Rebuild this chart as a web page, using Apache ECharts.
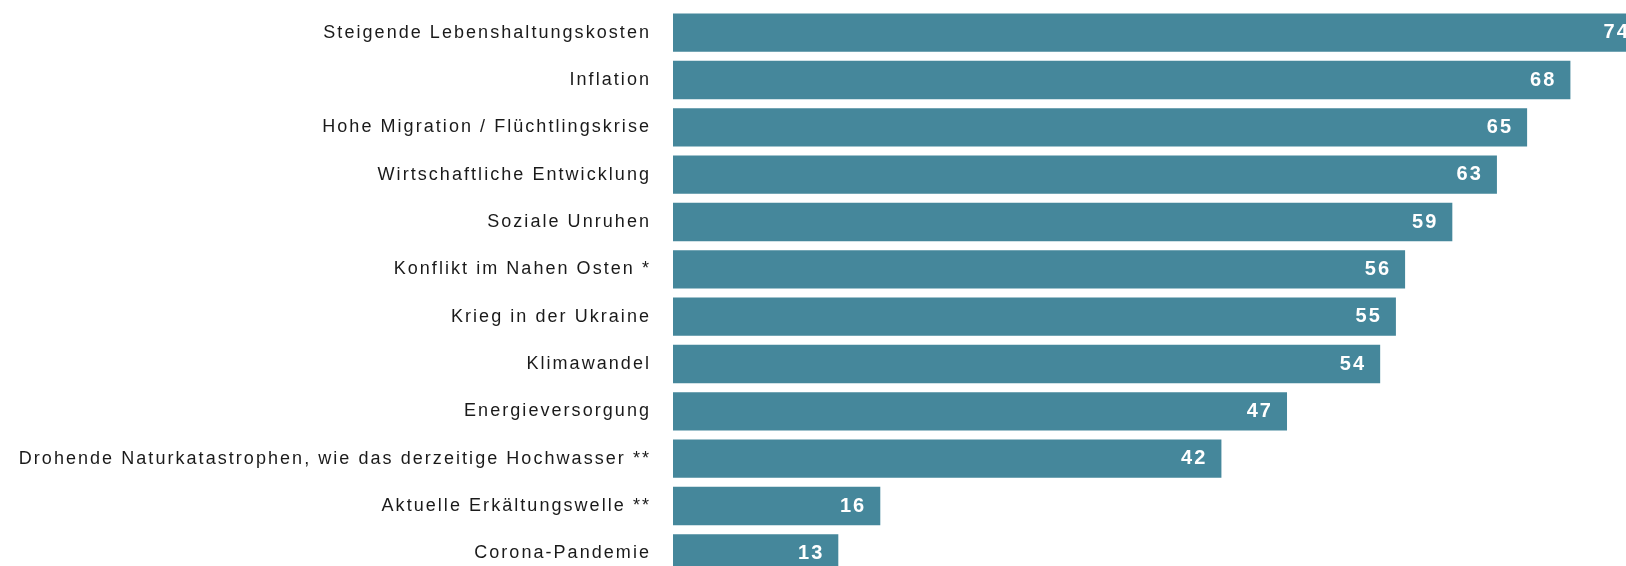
<!DOCTYPE html>
<html>
<head>
<meta charset="utf-8">
<script src="https://cdn.jsdelivr.net/npm/echarts@6/dist/echarts.min.js"></script>
<style>
html,body{margin:0;padding:0;background:#fff;}
#chart{width:1626px;height:566px;}
</style>
</head>
<body>
<div id="chart"></div>
<script>
const categories = [
  'Steigende Lebenshaltungskosten',
  'Inflation',
  'Hohe Migration / Flüchtlingskrise',
  'Wirtschaftliche Entwicklung',
  'Soziale Unruhen',
  'Konflikt im Nahen Osten *',
  'Krieg in der Ukraine',
  'Klimawandel',
  'Energieversorgung',
  'Drohende Naturkatastrophen, wie das derzeitige Hochwasser **',
  'Aktuelle Erkältungswelle **',
  'Corona-Pandemie'
];
const values = [74, 68.4, 65.1, 62.8, 59.4, 55.8, 55.1, 53.9, 46.8, 41.8, 15.8, 12.6];

// wider letter spacing for the (regular, 18px) category labels, as in the reference
(function () {
  const P = CanvasRenderingContext2D.prototype;
  const orig = P.fillText;
  P.fillText = function (t, x, y, m) {
    const f = this.font || '';
    if (f.indexOf('18px') >= 0 && f.indexOf('bold') < 0 && f.indexOf('700') < 0 && 'letterSpacing' in this) {
      const prev = this.letterSpacing;
      this.letterSpacing = '2.05px';
      const r = m === undefined ? orig.call(this, t, x, y) : orig.call(this, t, x, y, m);
      this.letterSpacing = prev;
      return r;
    }
    return m === undefined ? orig.call(this, t, x, y) : orig.call(this, t, x, y, m);
  };
})();

const chart = echarts.init(document.getElementById('chart'), null, {renderer: 'canvas'});
chart.setOption({
  animation: false,
  backgroundColor: '#ffffff',
  grid: {left: 673, top: 9, height: 568, width: 1049.6, outerBoundsMode: 'none', containLabel: false},
  xAxis: {
    type: 'value', min: 0, max: 80,
    show: false,
    splitLine: {show: false}
  },
  yAxis: {
    type: 'category',
    data: categories,
    inverse: true,
    axisLine: {show: false},
    axisTick: {show: false},
    axisLabel: {
      margin: 22,
      fontFamily: 'Liberation Sans',
      fontSize: 18,
      color: '#1a1a1a',
      padding: [4, 0, 0, 0]
    }
  },
  series: [{
    type: 'bar',
    data: values,
    clip: false,
    barCategoryGap: '19%',
    itemStyle: {color: '#45879b'},
    label: {
      show: true,
      position: 'insideRight',
      distance: 14,
      color: '#ffffff',
      fontFamily: 'Liberation Sans',
      fontWeight: 'bold',
      fontSize: 20,
      padding: [4, 0, 0, 0],
      formatter: p => Math.round(p.value)
    }
  }]
});
</script>
</body>
</html>
